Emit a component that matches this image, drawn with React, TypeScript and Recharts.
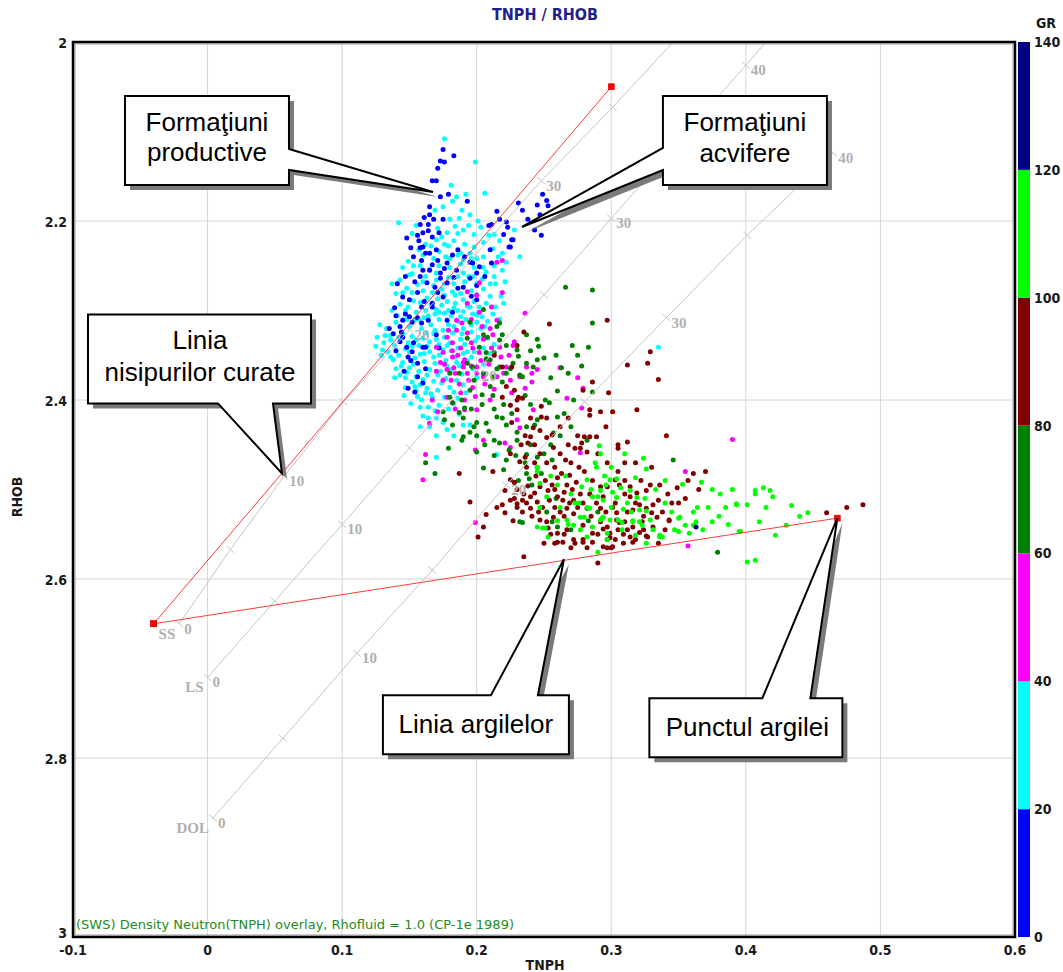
import React from 'react';
import { ScatterChart, Scatter, XAxis, YAxis, CartesianGrid } from 'recharts';

// ---- canvas & plot frame ----
const W = 1063;
const H = 972;
const PLOT = { left: 73, top: 42, right: 1015, bottom: 937 };
const Y_AXIS_W = 40;
const X_AXIS_H = 30;

const CONDENSED = "'DejaVu Sans Condensed', 'Liberation Sans Narrow', 'Arial Narrow', 'Liberation Sans', sans-serif";
const SANS = "'Liberation Sans', Arial, sans-serif";
const SERIF = "'Liberation Serif', 'Times New Roman', serif";

// ---- axes ----
const X_TICKS = [-0.1, 0, 0.1, 0.2, 0.3, 0.4, 0.5, 0.6];
const Y_TICKS = [2, 2.2, 2.4, 2.6, 2.8, 3];
const GR_TICKS = [0, 20, 40, 60, 80, 100, 120, 140];

// ---- GR colour classes ----
const GR_BINS = [
  { lo: 0, hi: 20, color: '#0000ff' },
  { lo: 20, hi: 40, color: '#00ffff' },
  { lo: 40, hi: 60, color: '#ff00ff' },
  { lo: 60, hi: 80, color: '#008000' },
  { lo: 80, hi: 100, color: '#800000' },
  { lo: 100, hi: 120, color: '#00ff00' },
  { lo: 120, hi: 140, color: '#000080' },
];

// ---- TNPH / RHOB samples, grouped by GR class ----
const GR_0_20: [number, number][] = [
  [0.175, 2.12], [0.183, 2.127], [0.173, 2.133], [0.176, 2.134], [0.171, 2.141], [0.167, 2.155], [0.17, 2.155],
  [0.173, 2.173], [0.179, 2.17], [0.193, 2.178], [0.161, 2.196], [0.165, 2.193], [0.175, 2.198], [0.165, 2.184],
  [0.215, 2.189], [0.211, 2.204], [0.222, 2.201], [0.234, 2.188], [0.231, 2.18], [0.245, 2.182], [0.247, 2.193],
  [0.249, 2.17], [0.252, 2.177], [0.253, 2.183], [0.227, 2.221], [0.224, 2.229], [0.248, 2.216], [0.223, 2.207], [0.209, 2.205],
  [0.148, 2.219], [0.156, 2.216], [0.164, 2.204], [0.158, 2.23], [0.16, 2.229], [0.165, 2.236], [0.153, 2.24], [0.159, 2.244],
  [0.167, 2.249], [0.16, 2.255], [0.165, 2.255], [0.173, 2.258], [0.178, 2.247], [0.185, 2.255], [0.191, 2.24], [0.195, 2.246],
  [0.197, 2.247], [0.2, 2.258], [0.202, 2.251], [0.211, 2.247], [0.21, 2.232], [0.226, 2.221], [0.225, 2.229],
  [0.154, 2.268], [0.169, 2.274], [0.173, 2.264], [0.178, 2.269], [0.19, 2.274], [0.195, 2.264], [0.167, 2.292], [0.15, 2.288],
  [0.159, 2.296], [0.145, 2.311], [0.152, 2.313], [0.156, 2.308], [0.159, 2.314], [0.164, 2.311], [0.144, 2.324], [0.143, 2.335],
  [0.148, 2.341], [0.152, 2.346], [0.162, 2.341], [0.17, 2.327], [0.178, 2.311], [0.182, 2.302], [0.175, 2.285], [0.156, 2.374],
  [0.16, 2.381], [0.2, 2.272], [0.2, 2.288], [0.167, 2.218], [0.164, 2.211], [0.16, 2.213], [0.17, 2.232], [0.163, 2.269],
  [0.145, 2.285], [0.156, 2.28], [0.167, 2.296], [0.15, 2.307], [0.143, 2.318], [0.145, 2.33], [0.153, 2.336], [0.16, 2.341],
  [0.149, 2.352], [0.149, 2.387], [0.156, 2.359], [0.138, 2.326], [0.14, 2.345],
  [0.158, 2.204], [0.168, 2.198], [0.172, 2.213], [0.157, 2.222], [0.151, 2.23], [0.162, 2.236], [0.147, 2.262], [0.141, 2.27],
  [0.158, 2.262], [0.171, 2.244], [0.182, 2.238], [0.186, 2.232], [0.176, 2.253], [0.183, 2.263], [0.139, 2.297], [0.147, 2.304],
  [0.14, 2.306], [0.135, 2.32], [0.161, 2.29], [0.171, 2.28], [0.186, 2.275], [0.196, 2.284], [0.206, 2.262], [0.151, 2.356],
  [0.146, 2.368], [0.162, 2.365], [0.172, 2.342], [0.154, 2.391], [0.22, 2.215], [0.217, 2.198], [0.238, 2.198], [0.243, 2.21],
];

const GR_20_40: [number, number][] = [
  [0.176, 2.108], [0.199, 2.134], [0.206, 2.169], [0.142, 2.202], [0.181, 2.16], [0.192, 2.17], [0.185, 2.173], [0.182, 2.178],
  [0.175, 2.184], [0.189, 2.188], [0.195, 2.193], [0.18, 2.198], [0.187, 2.197], [0.169, 2.188], [0.228, 2.21], [0.232, 2.24],
  [0.219, 2.236], [0.213, 2.215], [0.203, 2.207], [0.198, 2.215], [0.19, 2.21], [0.184, 2.206], [0.178, 2.213], [0.171, 2.208],
  [0.155, 2.205], [0.152, 2.214], [0.17, 2.221], [0.176, 2.226], [0.183, 2.222], [0.191, 2.226], [0.198, 2.229], [0.205, 2.224],
  [0.212, 2.231], [0.216, 2.24], [0.205, 2.24], [0.195, 2.236], [0.186, 2.238], [0.177, 2.24], [0.168, 2.242], [0.149, 2.245],
  [0.145, 2.252], [0.152, 2.259], [0.172, 2.25], [0.18, 2.252], [0.188, 2.248], [0.198, 2.252], [0.207, 2.257], [0.213, 2.262],
  [0.204, 2.265], [0.194, 2.262], [0.186, 2.262], [0.179, 2.263], [0.17, 2.266], [0.162, 2.262], [0.156, 2.271], [0.148, 2.275],
  [0.14, 2.281], [0.16, 2.278], [0.167, 2.28], [0.174, 2.276], [0.182, 2.279], [0.188, 2.281], [0.196, 2.278], [0.205, 2.276],
  [0.21, 2.284], [0.207, 2.292], [0.198, 2.29], [0.19, 2.288], [0.184, 2.292], [0.178, 2.29], [0.171, 2.287], [0.163, 2.286],
  [0.153, 2.289], [0.143, 2.293], [0.137, 2.3], [0.147, 2.3], [0.155, 2.302], [0.162, 2.3], [0.17, 2.299], [0.176, 2.303],
  [0.183, 2.297], [0.19, 2.301], [0.197, 2.304], [0.204, 2.307], [0.212, 2.304], [0.2, 2.313], [0.192, 2.31], [0.186, 2.312],
  [0.179, 2.316], [0.172, 2.31], [0.166, 2.316], [0.159, 2.32], [0.15, 2.318], [0.14, 2.313], [0.133, 2.32], [0.136, 2.328],
  [0.145, 2.326], [0.152, 2.329], [0.16, 2.331], [0.168, 2.326], [0.175, 2.322], [0.182, 2.325], [0.19, 2.32], [0.196, 2.324],
  [0.203, 2.32], [0.208, 2.331], [0.199, 2.334], [0.188, 2.332], [0.18, 2.336], [0.172, 2.338], [0.165, 2.335], [0.157, 2.339],
  [0.149, 2.336], [0.139, 2.339], [0.131, 2.336], [0.134, 2.346], [0.142, 2.35], [0.15, 2.346], [0.158, 2.349], [0.165, 2.346],
  [0.172, 2.35], [0.181, 2.345], [0.19, 2.348], [0.198, 2.346], [0.205, 2.342], [0.193, 2.356], [0.185, 2.358], [0.177, 2.356],
  [0.169, 2.359], [0.161, 2.357], [0.153, 2.36], [0.145, 2.358], [0.14, 2.365], [0.148, 2.369], [0.157, 2.368], [0.165, 2.366],
  [0.173, 2.368], [0.181, 2.366], [0.189, 2.371], [0.197, 2.365], [0.185, 2.378], [0.177, 2.376], [0.168, 2.379], [0.16, 2.377],
  [0.152, 2.38], [0.147, 2.386], [0.155, 2.39], [0.163, 2.387], [0.171, 2.389], [0.18, 2.386], [0.19, 2.383], [0.176, 2.397],
  [0.167, 2.397], [0.159, 2.4], [0.164, 2.408], [0.172, 2.406], [0.183, 2.404], [0.16, 2.418], [0.17, 2.42], [0.187, 2.416],
  [0.165, 2.43], [0.178, 2.433], [0.195, 2.428], [0.17, 2.464], [0.215, 2.461], [0.335, 2.341], [0.221, 2.268], [0.218, 2.284],
  [0.214, 2.296], [0.126, 2.33], [0.128, 2.316], [0.146, 2.31], [0.138, 2.355], [0.154, 2.31], [0.161, 2.308], [0.169, 2.304],
  [0.184, 2.283], [0.176, 2.27], [0.191, 2.268], [0.2, 2.27], [0.165, 2.254], [0.158, 2.25], [0.157, 2.232], [0.162, 2.226],
  [0.19, 2.243], [0.2, 2.242], [0.213, 2.25], [0.136, 2.333], [0.147, 2.375], [0.154, 2.385], [0.162, 2.392],
  [0.141, 2.306], [0.149, 2.296], [0.158, 2.291], [0.166, 2.293], [0.174, 2.294], [0.181, 2.306], [0.188, 2.307], [0.195, 2.296],
  [0.202, 2.296], [0.208, 2.312], [0.196, 2.316], [0.189, 2.326], [0.183, 2.318], [0.176, 2.33], [0.169, 2.322], [0.162, 2.325],
  [0.155, 2.333], [0.147, 2.343], [0.154, 2.353], [0.161, 2.348], [0.168, 2.352], [0.175, 2.344], [0.184, 2.352], [0.191, 2.338],
  [0.196, 2.352], [0.187, 2.362], [0.178, 2.362], [0.171, 2.372], [0.163, 2.372], [0.155, 2.374], [0.15, 2.364], [0.143, 2.372],
  [0.158, 2.383], [0.166, 2.393], [0.174, 2.381], [0.183, 2.391], [0.179, 2.41], [0.169, 2.412], [0.158, 2.408], [0.164, 2.42],
  [0.175, 2.425], [0.186, 2.398], [0.192, 2.392], [0.17, 2.44], [0.183, 2.44], [0.158, 2.43], [0.19, 2.428], [0.2, 2.375],
  [0.205, 2.36], [0.21, 2.348], [0.213, 2.338], [0.217, 2.31], [0.219, 2.255], [0.222, 2.246], [0.217, 2.222], [0.209, 2.216],
  [0.201, 2.2], [0.194, 2.205], [0.186, 2.214], [0.179, 2.228], [0.172, 2.234], [0.166, 2.228], [0.16, 2.238], [0.153, 2.25],
  [0.15, 2.26], [0.143, 2.266], [0.137, 2.27], [0.145, 2.28], [0.152, 2.28], [0.16, 2.268], [0.168, 2.272], [0.176, 2.283],
  [0.183, 2.27], [0.19, 2.258], [0.197, 2.262], [0.205, 2.252], [0.21, 2.27], [0.2, 2.282], [0.193, 2.295], [0.186, 2.3],
  [0.179, 2.3], [0.172, 2.302], [0.164, 2.306], [0.157, 2.31], [0.148, 2.31], [0.142, 2.33], [0.132, 2.328], [0.13, 2.344],
  [0.136, 2.352], [0.144, 2.362], [0.152, 2.34], [0.163, 2.34], [0.17, 2.332], [0.178, 2.339], [0.186, 2.342], [0.193, 2.346],
  [0.201, 2.33], [0.206, 2.318], [0.2, 2.305], [0.188, 2.236], [0.18, 2.242], [0.17, 2.258], [0.174, 2.218], [0.196, 2.242],
  [0.214, 2.27], [0.22, 2.292], [0.129, 2.35], [0.125, 2.34], [0.139, 2.375], [0.146, 2.395], [0.151, 2.404], [0.156, 2.396],
];

const GR_40_60: [number, number][] = [
  [0.215, 2.246], [0.219, 2.244], [0.202, 2.269], [0.193, 2.279], [0.2, 2.283], [0.211, 2.296], [0.202, 2.302], [0.185, 2.322],
  [0.193, 2.325], [0.178, 2.33], [0.182, 2.336], [0.188, 2.342], [0.196, 2.336], [0.175, 2.347], [0.182, 2.352], [0.191, 2.355],
  [0.202, 2.347], [0.212, 2.327], [0.215, 2.311], [0.21, 2.32], [0.19, 2.363], [0.2, 2.363], [0.205, 2.374], [0.193, 2.37],
  [0.178, 2.366], [0.215, 2.374], [0.225, 2.378], [0.232, 2.374], [0.245, 2.366], [0.237, 2.363], [0.236, 2.303], [0.227, 2.339],
  [0.173, 2.358], [0.17, 2.341], [0.185, 2.311], [0.219, 2.28], [0.193, 2.292], [0.207, 2.355], [0.222, 2.363], [0.228, 2.335],
  [0.217, 2.341], [0.184, 2.37], [0.175, 2.378], [0.241, 2.37], [0.262, 2.364], [0.275, 2.375], [0.279, 2.387], [0.267, 2.398],
  [0.278, 2.409], [0.242, 2.411], [0.23, 2.422], [0.221, 2.448], [0.205, 2.445], [0.2, 2.411], [0.191, 2.411], [0.171, 2.413],
  [0.165, 2.426], [0.199, 2.456], [0.162, 2.461], [0.16, 2.489], [0.277, 2.459], [0.39, 2.444], [0.355, 2.48], [0.357, 2.563],
  [0.199, 2.537], [0.225, 2.453], [0.232, 2.431], [0.182, 2.403], [0.178, 2.397], [0.167, 2.4],
  [0.186, 2.35], [0.19, 2.358], [0.196, 2.362], [0.203, 2.356], [0.209, 2.36], [0.2, 2.37], [0.194, 2.378], [0.187, 2.382],
  [0.181, 2.378], [0.188, 2.392], [0.197, 2.386], [0.206, 2.382], [0.213, 2.388], [0.22, 2.37], [0.218, 2.352], [0.211, 2.342],
  [0.205, 2.332], [0.197, 2.342], [0.182, 2.345], [0.176, 2.36], [0.17, 2.368], [0.183, 2.364], [0.191, 2.4], [0.199, 2.396],
  [0.184, 2.41], [0.21, 2.4], [0.226, 2.392], [0.236, 2.387], [0.241, 2.38], [0.224, 2.35], [0.204, 2.318], [0.196, 2.31],
  [0.189, 2.314], [0.179, 2.322],
];

const GR_60_80: [number, number][] = [
  [0.195, 2.313], [0.205, 2.299], [0.215, 2.318], [0.217, 2.314], [0.208, 2.33], [0.219, 2.327], [0.222, 2.339], [0.23, 2.344],
  [0.237, 2.327], [0.213, 2.347], [0.193, 2.331], [0.193, 2.359], [0.18, 2.37], [0.187, 2.37], [0.197, 2.363], [0.207, 2.347],
  [0.222, 2.37], [0.232, 2.372], [0.242, 2.363], [0.245, 2.355], [0.286, 2.314], [0.245, 2.332], [0.271, 2.339], [0.283, 2.341],
  [0.278, 2.362], [0.286, 2.391], [0.263, 2.364], [0.25, 2.353], [0.237, 2.359], [0.231, 2.351], [0.217, 2.333], [0.205, 2.327],
  [0.202, 2.341], [0.207, 2.354], [0.217, 2.363], [0.227, 2.359], [0.234, 2.374], [0.219, 2.38], [0.21, 2.385], [0.204, 2.394],
  [0.195, 2.389], [0.189, 2.4], [0.18, 2.397], [0.175, 2.413], [0.176, 2.422], [0.182, 2.428], [0.19, 2.441], [0.189, 2.445],
  [0.195, 2.436], [0.2, 2.425], [0.207, 2.426], [0.215, 2.419], [0.219, 2.42], [0.222, 2.428], [0.23, 2.436], [0.237, 2.43],
  [0.243, 2.428], [0.245, 2.422], [0.251, 2.4], [0.254, 2.403], [0.26, 2.419], [0.257, 2.437], [0.245, 2.464], [0.237, 2.461],
  [0.23, 2.445], [0.213, 2.445], [0.206, 2.45], [0.2, 2.458], [0.222, 2.467], [0.237, 2.482], [0.245, 2.475], [0.256, 2.467],
  [0.179, 2.454], [0.162, 2.47], [0.169, 2.482], [0.205, 2.476], [0.228, 2.492], [0.241, 2.495], [0.232, 2.536], [0.234, 2.537],
  [0.256, 2.536], [0.282, 2.445], [0.346, 2.467], [0.379, 2.57], [0.266, 2.274], [0.286, 2.277], [0.187, 2.414], [0.191, 2.409],
  [0.182, 2.403], [0.26, 2.542], [0.29, 2.525],
  [0.198, 2.378], [0.205, 2.37], [0.212, 2.374], [0.212, 2.395], [0.22, 2.405], [0.226, 2.415], [0.213, 2.41], [0.204, 2.405],
  [0.196, 2.41], [0.2, 2.44], [0.209, 2.435], [0.217, 2.448], [0.224, 2.456], [0.229, 2.462], [0.236, 2.47], [0.213, 2.462],
  [0.22, 2.478], [0.231, 2.49], [0.239, 2.488], [0.248, 2.482], [0.25, 2.46], [0.24, 2.45], [0.255, 2.45], [0.262, 2.44],
  [0.27, 2.43], [0.265, 2.415], [0.272, 2.4], [0.26, 2.39], [0.255, 2.375], [0.268, 2.37], [0.275, 2.35], [0.259, 2.35],
  [0.246, 2.34], [0.24, 2.345], [0.236, 2.395], [0.24, 2.405], [0.21, 2.355], [0.215, 2.365], [0.225, 2.365], [0.259, 2.51],
  [0.252, 2.525], [0.27, 2.545], [0.283, 2.535], [0.198, 2.43], [0.19, 2.42],
];

const GR_80_100: [number, number][] = [
  [0.254, 2.315], [0.297, 2.311], [0.312, 2.361], [0.327, 2.359], [0.329, 2.346], [0.335, 2.377], [0.298, 2.392], [0.286, 2.38],
  [0.279, 2.389], [0.284, 2.411], [0.284, 2.417], [0.292, 2.413], [0.301, 2.413], [0.319, 2.411], [0.341, 2.44], [0.312, 2.447],
  [0.305, 2.45], [0.305, 2.454], [0.289, 2.441], [0.284, 2.441], [0.28, 2.441], [0.278, 2.448], [0.277, 2.454], [0.273, 2.454],
  [0.282, 2.458], [0.266, 2.467], [0.257, 2.453], [0.252, 2.442], [0.256, 2.439], [0.248, 2.419], [0.252, 2.42], [0.247, 2.434],
  [0.242, 2.431], [0.24, 2.441], [0.238, 2.448], [0.236, 2.464], [0.237, 2.475], [0.232, 2.469], [0.23, 2.4], [0.234, 2.398],
  [0.23, 2.411], [0.225, 2.406], [0.228, 2.389], [0.231, 2.397], [0.222, 2.385], [0.219, 2.397], [0.269, 2.484], [0.274, 2.492],
  [0.267, 2.495], [0.263, 2.482], [0.26, 2.487], [0.256, 2.495], [0.253, 2.501], [0.247, 2.497], [0.243, 2.504], [0.24, 2.508],
  [0.234, 2.512], [0.228, 2.492], [0.225, 2.489], [0.221, 2.501], [0.225, 2.512], [0.219, 2.517], [0.23, 2.52], [0.234, 2.525],
  [0.24, 2.521], [0.245, 2.514], [0.249, 2.52], [0.254, 2.512], [0.26, 2.508], [0.264, 2.512], [0.269, 2.515], [0.272, 2.512],
  [0.275, 2.52], [0.279, 2.515], [0.282, 2.521], [0.267, 2.521], [0.262, 2.525], [0.257, 2.531], [0.252, 2.536], [0.247, 2.534],
  [0.253, 2.543], [0.26, 2.549], [0.267, 2.545], [0.272, 2.556], [0.26, 2.559], [0.264, 2.559], [0.279, 2.556], [0.286, 2.549],
  [0.292, 2.536], [0.297, 2.542], [0.299, 2.549], [0.297, 2.556], [0.301, 2.564], [0.297, 2.565], [0.304, 2.534], [0.306, 2.537],
  [0.312, 2.545], [0.316, 2.542], [0.314, 2.553], [0.318, 2.556], [0.324, 2.545], [0.327, 2.553], [0.331, 2.542], [0.334, 2.531],
  [0.33, 2.526], [0.326, 2.521], [0.321, 2.517], [0.316, 2.523], [0.314, 2.508], [0.319, 2.504], [0.326, 2.501], [0.329, 2.495],
  [0.314, 2.497], [0.306, 2.495], [0.303, 2.489], [0.305, 2.48], [0.297, 2.497], [0.292, 2.497], [0.294, 2.508], [0.301, 2.52],
  [0.292, 2.521], [0.345, 2.515], [0.343, 2.534], [0.335, 2.512], [0.361, 2.482], [0.46, 2.526], [0.475, 2.52], [0.487, 2.517],
  [0.29, 2.582], [0.235, 2.575], [0.201, 2.553], [0.205, 2.542], [0.207, 2.528], [0.195, 2.514], [0.187, 2.482], [0.221, 2.526],
  [0.23, 2.516], [0.258, 2.56], [0.273, 2.56], [0.279, 2.559], [0.286, 2.559], [0.294, 2.564], [0.3, 2.565], [0.309, 2.56],
  [0.316, 2.559], [0.326, 2.552], [0.343, 2.535], [0.299, 2.554], [0.294, 2.544], [0.305, 2.545], [0.31, 2.536], [0.304, 2.526],
  [0.323, 2.536], [0.331, 2.517], [0.235, 2.324], [0.23, 2.339], [0.213, 2.35], [0.219, 2.363], [0.226, 2.363],
  [0.236, 2.44], [0.243, 2.45], [0.247, 2.46], [0.252, 2.47], [0.258, 2.475], [0.262, 2.46], [0.27, 2.47], [0.276, 2.475],
  [0.28, 2.48], [0.286, 2.49], [0.284, 2.505], [0.277, 2.505], [0.271, 2.5], [0.265, 2.503], [0.258, 2.5], [0.251, 2.49],
  [0.244, 2.485], [0.238, 2.496], [0.23, 2.5], [0.235, 2.505], [0.241, 2.53], [0.237, 2.515], [0.228, 2.51], [0.246, 2.525],
  [0.258, 2.52], [0.265, 2.53], [0.272, 2.527], [0.279, 2.54], [0.285, 2.53], [0.289, 2.515], [0.296, 2.525], [0.303, 2.515],
  [0.31, 2.505], [0.318, 2.515], [0.324, 2.53], [0.321, 2.548], [0.309, 2.55], [0.303, 2.556], [0.29, 2.55], [0.282, 2.565],
  [0.27, 2.565], [0.265, 2.55], [0.255, 2.55], [0.31, 2.49], [0.322, 2.49], [0.336, 2.495], [0.342, 2.505], [0.35, 2.515],
  [0.349, 2.498], [0.355, 2.51], [0.338, 2.525], [0.275, 2.44], [0.268, 2.45], [0.29, 2.46], [0.297, 2.47], [0.31, 2.47],
  [0.296, 2.43], [0.262, 2.43], [0.268, 2.42], [0.248, 2.407], [0.24, 2.42], [0.226, 2.425], [0.233, 2.45], [0.225, 2.46],
  [0.243, 2.47], [0.212, 2.48], [0.215, 2.52], [0.227, 2.535], [0.25, 2.56], [0.34, 2.545], [0.335, 2.56], [0.312, 2.525],
  [0.318, 2.47], [0.33, 2.475], [0.357, 2.49], [0.365, 2.5], [0.37, 2.48],
];

const GR_100_120: [number, number][] = [
  [0.291, 2.451], [0.292, 2.46], [0.288, 2.47], [0.295, 2.485], [0.299, 2.489], [0.304, 2.488], [0.301, 2.503], [0.292, 2.501],
  [0.286, 2.508], [0.294, 2.512], [0.304, 2.509], [0.314, 2.501], [0.318, 2.487], [0.326, 2.477], [0.319, 2.509], [0.321, 2.523],
  [0.326, 2.524], [0.329, 2.534], [0.321, 2.536], [0.331, 2.545], [0.336, 2.551], [0.338, 2.553], [0.347, 2.545], [0.35, 2.532],
  [0.353, 2.494], [0.361, 2.525], [0.367, 2.492], [0.363, 2.536], [0.375, 2.536], [0.381, 2.505], [0.387, 2.539], [0.393, 2.516],
  [0.396, 2.547], [0.401, 2.517], [0.407, 2.505], [0.407, 2.501], [0.413, 2.498], [0.418, 2.501], [0.42, 2.508], [0.41, 2.536],
  [0.422, 2.551], [0.434, 2.518], [0.446, 2.526], [0.401, 2.581], [0.407, 2.579], [0.29, 2.57], [0.282, 2.553], [0.277, 2.545],
  [0.272, 2.54], [0.268, 2.539], [0.277, 2.531], [0.282, 2.52], [0.292, 2.534], [0.294, 2.531], [0.299, 2.534], [0.309, 2.522],
  [0.253, 2.553], [0.245, 2.542], [0.251, 2.543], [0.267, 2.534], [0.247, 2.493], [0.245, 2.475], [0.245, 2.48], [0.252, 2.508],
  [0.273, 2.515], [0.28, 2.531], [0.286, 2.542], [0.297, 2.549], [0.308, 2.537], [0.316, 2.536], [0.318, 2.551], [0.326, 2.56],
  [0.297, 2.556], [0.29, 2.508], [0.278, 2.497], [0.282, 2.489], [0.289, 2.475], [0.247, 2.52], [0.249, 2.543], [0.284, 2.521],
  [0.293, 2.532], [0.305, 2.534], [0.316, 2.535], [0.323, 2.54], [0.336, 2.553], [0.35, 2.547], [0.351, 2.531], [0.358, 2.549],
  [0.364, 2.52], [0.361, 2.54], [0.393, 2.517], [0.395, 2.547],
  [0.285, 2.5], [0.296, 2.495], [0.307, 2.498], [0.312, 2.515], [0.3, 2.52], [0.308, 2.545], [0.315, 2.525], [0.325, 2.51],
  [0.333, 2.5], [0.34, 2.515], [0.345, 2.525], [0.355, 2.54], [0.368, 2.545], [0.372, 2.52], [0.38, 2.53], [0.385, 2.52],
  [0.26, 2.535], [0.262, 2.52], [0.276, 2.515], [0.27, 2.505], [0.26, 2.495], [0.255, 2.485], [0.266, 2.485], [0.3, 2.475],
  [0.31, 2.46], [0.324, 2.465], [0.34, 2.49], [0.43, 2.54], [0.44, 2.53], [0.415, 2.52], [0.39, 2.5], [0.375, 2.5],
];

const GR_120_140: [number, number][] = [[0.363, 2.542]];

const SERIES = [
  { pts: GR_20_40, bin: 1 },
  { pts: GR_0_20, bin: 0 },
  { pts: GR_40_60, bin: 2 },
  { pts: GR_60_80, bin: 3 },
  { pts: GR_80_100, bin: 4 },
  { pts: GR_100_120, bin: 5 },
  { pts: GR_120_140, bin: 6 },
];

// ---- CP-1e porosity lines: [porosity p.u., TNPH, RHOB]; null = line end without tick ----
const SS_LINE: [number | null, number, number][] = [
  [0, -0.021, 2.65], [5, 0.017, 2.567], [10, 0.057, 2.485], [15, 0.101, 2.402], [20, 0.15, 2.322],
  [25, 0.199, 2.238], [30, 0.248, 2.155], [35, 0.301, 2.073], [null, 0.346, 2.0],
];
const LS_LINE: [number | null, number, number][] = [
  [0, 0, 2.71], [5, 0.05, 2.6245], [10, 0.1, 2.539], [15, 0.15, 2.4535], [20, 0.2, 2.368],
  [25, 0.25, 2.2825], [30, 0.3, 2.197], [35, 0.35, 2.1115], [40, 0.4, 2.026], [null, 0.415, 2.0],
];
const DOL_LINE: [number | null, number, number][] = [
  [0, 0.004, 2.867], [5, 0.056, 2.778], [10, 0.111, 2.683], [15, 0.167, 2.59], [20, 0.222, 2.495],
  [25, 0.28, 2.402], [30, 0.341, 2.308], [35, 0.401, 2.216], [40, 0.465, 2.124],
];
const LITHOLOGIES = [
  { name: 'SS', pts: SS_LINE },
  { name: 'LS', pts: LS_LINE },
  { name: 'DOL', pts: DOL_LINE },
];

// ---- interpretation lines ----
const SAND_POINT: [number, number] = [-0.04, 2.65];
const SAND_TOP: [number, number] = [0.3, 2.05];
const SHALE_POINT: [number, number] = [0.468, 2.532];
const CLEAN_SAND_LINE = [SAND_POINT, SAND_TOP];
const SHALE_LINE = [SAND_POINT, SHALE_POINT];

// ---- callouts: text and the data point each one points at ----
const CALLOUT_TEXT = [
  ['Formaţiuni', 'productive'],
  ['Formaţiuni', 'acvifere'],
  ['Linia', 'nisipurilor curate'],
  ['Linia argilelor'],
  ['Punctul argilei'],
];
const CALLOUT_TIPS: [number, number][] = [
  [0.1675, 2.1676],
  [0.2336, 2.2067],
  [0.0553, 2.482],
  [0.2648, 2.578],
  [0.468, 2.532],
];
// outline of each bubble (px, relative to its tip) and text placement
const CALLOUT_LAYOUT = [
  { outline: [[-308, -96], [-144, -96], [-144, -43], [0, 0], [-144, -22], [-144, -7], [-308, -7]], tx: -226, ty: [-70, -40] },
  { outline: [[141, -131], [305, -131], [305, -42], [141, -42], [141, -57], [0, 0], [141, -79]], tx: 223, ty: [-105, -74] },
  { outline: [[-194, -159], [29, -159], [29, -70], [-9, -70], [0, 0], [-64, -70], [-194, -70]], tx: -82, ty: [-133, -101] },
  { outline: [[-181, 136], [-73, 136], [0, 0], [-26, 136], [5, 136], [5, 195], [-181, 195]], tx: -88, ty: [165] },
  { outline: [[-188, 180], [-75, 180], [0, 0], [-27, 180], [5, 180], [5, 239], [-188, 239]], tx: -90, ty: [209] },
];

const CHART_GRAY = '#c6c6c6';
const CHART_LABEL = '#b0b0b0';
const RED = '#ff3b3b';
const TICK_FONT = { fill: '#1a1a1a', fontSize: 14, fontWeight: 'bold', fontFamily: CONDENSED };

const toXY = (pts: [number, number][]) => pts.map(([x, y]) => ({ x, y }));

// RHOB tick labels; the bottom one sits a little higher so it clears the TNPH labels
const RhobTick = (p: any) => {
  const v = p.payload.value;
  const shift = v === 3 ? -4 : 1;
  return (
    <text x={p.x} y={p.y + shift} dy="0.355em" textAnchor="end" {...TICK_FONT}>
      {v}
    </text>
  );
};

const dotShape = (color: string) => (p: any) => (
  <circle cx={p.cx} cy={p.cy} r={2.5} fill={color} />
);

const porosityMark = (lith: string) => (p: any) => {
  const phi = p.payload.phi;
  const { cx, cy } = p;
  if (phi == null || cx == null) return <g />;
  return (
    <g>
      <line x1={cx - 4} y1={cy - 3.5} x2={cx + 4} y2={cy + 3.5} stroke={CHART_GRAY} strokeWidth={1} />
      {phi % 10 === 0 && (
        <text x={cx + 5} y={cy + 10} fontFamily={SERIF} fontWeight="bold" fontSize={15} fill={CHART_LABEL}>
          {phi}
        </text>
      )}
      {phi === 0 && (
        <text x={cx - 4} y={cy + 15} textAnchor="end" fontFamily={SERIF} fontWeight="bold" fontSize={15} fill={CHART_LABEL}>
          {lith}
        </text>
      )}
    </g>
  );
};

const redSquare = (p: any) => (
  <rect x={p.cx - 3} y={p.cy - 3} width={6} height={6} fill="#ff0000" stroke="#d00000" strokeWidth={0.5} />
);

const calloutShape = (i: number) => (p: any) => {
  const { cx, cy } = p;
  const L = CALLOUT_LAYOUT[i];
  const pts = L.outline.map(([dx, dy]) => `${cx + dx},${cy + dy}`).join(' ');
  const shadow = L.outline.map(([dx, dy]) => `${cx + dx + 5},${cy + dy + 5}`).join(' ');
  return (
    <g>
      <polygon points={shadow} fill="#7a7a7a" />
      <polygon points={pts} fill="#ffffff" stroke="#000000" strokeWidth={2} strokeLinejoin="miter" />
      {CALLOUT_TEXT[i].map((t, k) => (
        <text key={k} x={cx + L.tx} y={cy + L.ty[k] + 9} textAnchor="middle" fontFamily={SANS} fontSize={26} fill="#000">
          {t}
        </text>
      ))}
    </g>
  );
};

const grY = (v: number) => PLOT.bottom - (v / 140) * (PLOT.bottom - PLOT.top);

export default function App() {
  return (
    <div style={{ position: 'absolute', left: 0, top: 0, width: W, height: H, background: '#fff' }}>
      <ScatterChart
        width={W}
        height={H}
        margin={{ top: PLOT.top, right: W - PLOT.right, bottom: H - PLOT.bottom - X_AXIS_H, left: PLOT.left - Y_AXIS_W }}
      >
        <CartesianGrid stroke="#d6d6d6" strokeWidth={1} />
        <XAxis
          type="number"
          dataKey="x"
          domain={[-0.1, 0.6]}
          ticks={X_TICKS}
          interval={0}
          allowDataOverflow
          axisLine={false}
          tickLine={false}
          tickSize={0}
          tickMargin={8}
          height={X_AXIS_H}
          tick={TICK_FONT}
        />
        <YAxis
          type="number"
          dataKey="y"
          domain={[2, 3]}
          reversed
          ticks={Y_TICKS}
          interval={0}
          allowDataOverflow
          axisLine={false}
          tickLine={false}
          tickSize={0}
          tickMargin={6}
          width={Y_AXIS_W}
          tick={RhobTick}
        />
        {SERIES.map((s, i) => (
          <Scatter
            key={`gr${i}`}
            data={toXY(s.pts)}
            fill={GR_BINS[s.bin].color}
            shape={dotShape(GR_BINS[s.bin].color)}
            isAnimationActive={false}
          />
        ))}
        {LITHOLOGIES.map((l) => (
          <Scatter
            key={l.name}
            data={l.pts.map(([phi, x, y]) => ({ phi, x, y }))}
            line={{ stroke: CHART_GRAY, strokeWidth: 1 }}
            shape={porosityMark(l.name)}
            isAnimationActive={false}
          />
        ))}
        <Scatter data={toXY(CLEAN_SAND_LINE)} line={{ stroke: RED, strokeWidth: 1 }} shape={redSquare} isAnimationActive={false} />
        <Scatter data={toXY(SHALE_LINE)} line={{ stroke: RED, strokeWidth: 1 }} shape={redSquare} isAnimationActive={false} />
        {CALLOUT_TIPS.map((tip, i) => (
          <Scatter key={`c${i}`} data={toXY([tip])} shape={calloutShape(i)} isAnimationActive={false} />
        ))}
      </ScatterChart>

      <svg width={W} height={H} style={{ position: 'absolute', left: 0, top: 0, pointerEvents: 'none' }}>
        <text
          x={545}
          y={20}
          textAnchor="middle"
          fontFamily={CONDENSED}
          fontWeight="bold"
          fontSize={15}
          fill="#1f1f8c"
          textLength={106}
          lengthAdjust="spacingAndGlyphs"
        >
          TNPH / RHOB
        </text>
        <text x={545} y={970} textAnchor="middle" fontFamily={CONDENSED} fontWeight="bold" fontSize={14} fill="#1a1a1a">
          TNPH
        </text>
        <text
          x={22}
          y={497}
          textAnchor="middle"
          transform="rotate(-90 22 497)"
          fontFamily={CONDENSED}
          fontWeight="bold"
          fontSize={14}
          fill="#1a1a1a"
        >
          RHOB
        </text>
        <text x={76} y={929} fontFamily={CONDENSED} fontSize={12} fill="#1e8c1e" textLength={438} lengthAdjust="spacingAndGlyphs">
          (SWS) Density Neutron(TNPH) overlay, Rhofluid = 1.0 (CP-1e 1989)
        </text>
        {/* plot frame */}
        <rect
          x={PLOT.left + 2}
          y={PLOT.top + 2}
          width={PLOT.right - PLOT.left - 4}
          height={PLOT.bottom - PLOT.top - 4}
          fill="none"
          stroke="#9a9a9a"
          strokeWidth={1}
        />
        <rect
          x={PLOT.left}
          y={PLOT.top}
          width={PLOT.right - PLOT.left}
          height={PLOT.bottom - PLOT.top}
          fill="none"
          stroke="#000"
          strokeWidth={2.5}
        />
        {/* GR colour bar */}
        {GR_BINS.map((b, i) => (
          <rect key={i} x={1018} y={grY(b.hi)} width={12} height={grY(b.lo) - grY(b.hi)} fill={b.color} />
        ))}
        {GR_TICKS.map((v) => (
          <text key={v} x={1034} y={grY(v) + 5} fontFamily={CONDENSED} fontWeight="bold" fontSize={14} fill="#1a1a1a">
            {v}
          </text>
        ))}
        <text x={1036} y={28} fontFamily={CONDENSED} fontWeight="bold" fontSize={14} fill="#1a1a1a">
          GR
        </text>
      </svg>
    </div>
  );
}
